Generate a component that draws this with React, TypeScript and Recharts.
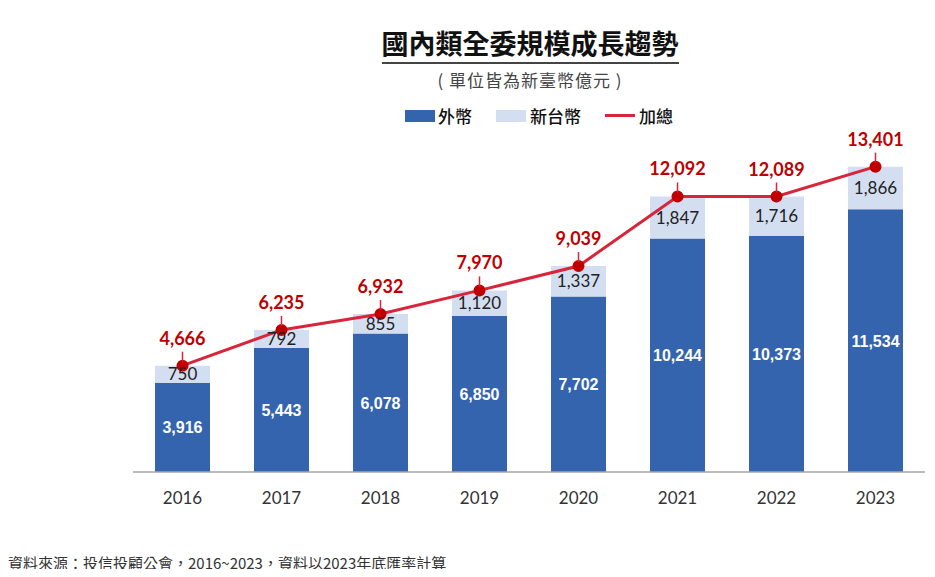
import React from "react";
import { ComposedChart, Bar, Line, XAxis, YAxis, LabelList } from "recharts";

const years = ["2016", "2017", "2018", "2019", "2020", "2021", "2022", "2023"];
const foreign = [3916, 5443, 6078, 6850, 7702, 10244, 10373, 11534];
const twd = [750, 792, 855, 1120, 1337, 1847, 1716, 1866];
const totals = [4666, 6235, 6932, 7970, 9039, 12092, 12089, 13401];

const data = years.map((y, i) => ({ year: y, foreign: foreign[i], twd: twd[i], total: totals[i] }));

const DARK = "#3464AE";
const LIGHT = "#D3DFF1";
const RED_LINE = "#D9253B";
const RED_TEXT = "#C00000";
const CJK = "'Noto Sans CJK TC', 'Noto Sans', sans-serif";
const NUM = "Lato, 'Liberation Sans', sans-serif";

const fmt = (v: any) => Number(v).toLocaleString("en-US");

const DarkLabel = (p: any) => (
  <text x={p.x + p.width / 2} y={p.y + p.height / 2} dy={6} textAnchor="middle" fill="#fff"
    fontFamily="'Liberation Sans', Arial, sans-serif" fontWeight="bold" fontSize={16}>{fmt(p.value)}</text>
);

const LightLabel = (p: any) => (
  <text x={p.x + p.width / 2} y={p.y + p.height / 2} dy={6} textAnchor="middle" fill="#222"
    fontFamily={NUM} fontSize={17}>{fmt(p.value)}</text>
);

const TotalLabel = (p: any) => (
  <g>
    <line x1={p.x} y1={p.y - 4} x2={p.x} y2={p.y - 14} stroke={RED_LINE} strokeWidth={1.5} />
    <text x={p.x} y={p.y - 21} textAnchor="middle" fill={RED_TEXT} fontFamily={NUM} fontWeight="bold" fontSize={18}>{fmt(p.value)}</text>
  </g>
);

export default function App() {
  return (
    <div style={{ position: "relative", width: 919, height: 561, background: "#fff" }}>
      <div style={{ position: "absolute", left: 0, top: 17, width: 1044, textAlign: "center", fontFamily: CJK }}>
        <span style={{ fontSize: 27, fontWeight: "bold", color: "#111", borderBottom: "2px solid #444", paddingBottom: 0, lineHeight: "36px" }}>國內類全委規模成長趨勢</span>
      </div>
      <div style={{ position: "absolute", left: 0, top: 59, width: 1044, textAlign: "center", fontFamily: CJK, fontSize: 17, color: "#444", letterSpacing: 1 }}>
        ( 單位皆為新臺幣億元 )
      </div>
      <div style={{ position: "absolute", left: 397, top: 95, display: "flex", alignItems: "center", fontFamily: CJK, fontSize: 17, fontWeight: 500, color: "#111" }}>
        <span style={{ width: 30, height: 12, background: DARK, display: "inline-block", marginRight: 3 }} />
        <span style={{ marginRight: 24 }}>外幣</span>
        <span style={{ width: 30, height: 12, background: LIGHT, display: "inline-block", marginRight: 4 }} />
        <span style={{ marginRight: 24 }}>新台幣</span>
        <span style={{ width: 30, height: 3, background: RED_LINE, display: "inline-block", marginRight: 4 }} />
        <span>加總</span>
      </div>
      <ComposedChart width={919} height={561} data={data} margin={{ top: 145, right: 2, bottom: 67, left: 125 }}
        style={{ position: "absolute", left: 0, top: 0 }}>
        <XAxis dataKey="year" axisLine={{ stroke: "#A6A6A6", strokeWidth: 1.5 }} tickLine={false} height={30}
          tick={{ fill: "#333", fontSize: 17, fontFamily: NUM }} tickMargin={14} />
        <YAxis hide domain={[0, 14000]} />
        <Bar dataKey="foreign" stackId="a" fill={DARK} barSize={55} isAnimationActive={false}>
          <LabelList dataKey="foreign" content={DarkLabel} />
        </Bar>
        <Bar dataKey="twd" stackId="a" fill={LIGHT} barSize={55} isAnimationActive={false}>
          <LabelList dataKey="twd" content={LightLabel} />
        </Bar>
        <Line dataKey="total" stroke={RED_LINE} strokeWidth={3} isAnimationActive={false}
          dot={{ r: 4.5, fill: RED_TEXT, stroke: RED_TEXT }} activeDot={false}>
          <LabelList dataKey="total" content={TotalLabel} />
        </Line>
      </ComposedChart>
      <div style={{ position: "absolute", left: 0, top: 544, fontFamily: CJK, fontSize: 15, color: "#333" }}>
        資料來源：投信投顧公會，2016~2023，資料以2023年底匯率計算
      </div>
    </div>
  );
}
